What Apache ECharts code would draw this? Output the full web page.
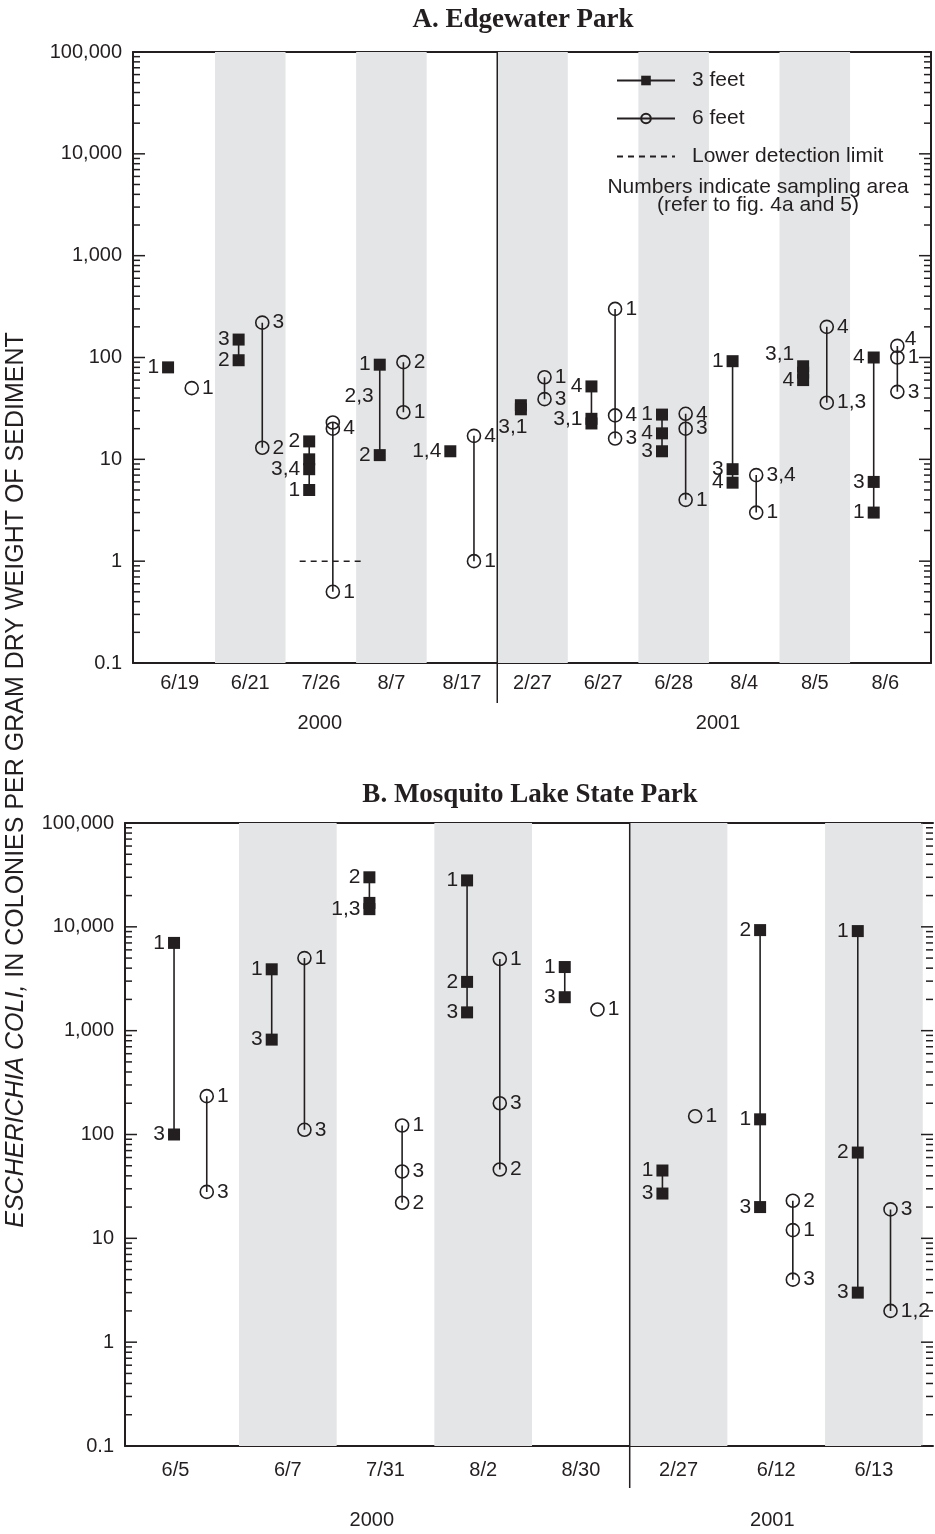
<!DOCTYPE html>
<html><head><meta charset="utf-8">
<script src="https://cdn.jsdelivr.net/npm/echarts@6/dist/echarts.min.js"></script>
<style>html,body{margin:0;padding:0;background:#fff}#chart{width:935px;height:1534px}</style>
</head><body><div id="chart"></div>
<script>
// ================= DATA =================
// Panel A: Edgewater Park
const catsA = ['6/19','6/21','7/26','8/7','8/17','2/27','6/27','6/28','8/4','8/5','8/6'];
const yearsA = ['2000','2001'];
// [category index, E. coli (colonies/g), sampling-area label]
const a3ft = [
  [0, 80, '1'],
  [1, 150, '3'], [1, 94, '2'],
  [2, 15, '2'], [2, 10, ''], [2, 8, '3,4'], [2, 5, '1'],
  [3, 85, '1'], [3, 11, '2'],
  [4, 12, '1,4'],
  [5, 34, ''], [5, 31, '3,1'],
  [6, 52, '4'], [6, 25, '3,1'], [6, 22.5, ''],
  [7, 27.5, '1'], [7, 18, '4'], [7, 12, '3'],
  [8, 92, '1'], [8, 8, '3'], [8, 5.9, '4'],
  [9, 82, '3,1'], [9, 71, ''], [9, 60, '4'],
  [10, 100, '4'], [10, 6, '3'], [10, 3, '1']
];
const a3ftNotes = [[3, 42, '2,3']];
const a6ft = [
  [0, 50, '1'],
  [1, 220, '3'], [1, 13, '2'],
  [2, 23, ''], [2, 20, '4'], [2, 0.5, '1'],
  [3, 90, '2'], [3, 29, '1'],
  [4, 17, '4'], [4, 1, '1'],
  [5, 64, '1'], [5, 39, '3'],
  [6, 300, '1'], [6, 27, '4'], [6, 16, '3'],
  [7, 28, '4'], [7, 20, '3'], [7, 4, '1'],
  [8, 7, '3,4'], [8, 3, '1'],
  [9, 200, '4'], [9, 36, '1,3'],
  [10, 130, '4'], [10, 100, '1'], [10, 46, '3']
];
const detectionLimitA = { cat: 2, value: 1 };

// Panel B: Mosquito Lake State Park
const catsB = ['6/5','6/7','7/31','8/2','8/30','2/27','6/12','6/13'];
const yearsB = ['2000','2001'];
const b3ft = [
  [0, 7000, '1'], [0, 100, '3'],
  [1, 3900, '1'], [1, 820, '3'],
  [2, 30000, '2'], [2, 17000, ''], [2, 14800, '1,3'],
  [3, 28000, '1'], [3, 2950, '2'], [3, 1500, '3'],
  [4, 4100, '1'], [4, 2100, '3'],
  [5, 45, '1'], [5, 27, '3'],
  [6, 9300, '2'], [6, 140, '1'], [6, 20, '3'],
  [7, 9100, '1'], [7, 67, '2'], [7, 3, '3']
];
const b6ft = [
  [0, 234, '1'], [0, 28, '3'],
  [1, 5000, '1'], [1, 111, '3'],
  [2, 122, '1'], [2, 44, '3'], [2, 22, '2'],
  [3, 4900, '1'], [3, 200, '3'], [3, 46, '2'],
  [4, 1600, '1'],
  [5, 150, '1'],
  [6, 23, '2'], [6, 12, '1'], [6, 4, '3'],
  [7, 19, '3'], [7, 2, '1,2']
];

const yMajor = [0.1, 1, 10, 100, 1000, 10000, 100000];

// ================= STYLE / LAYOUT =================
const INK = '#231f20', SHADE = '#e4e5e6';
const FONT = '"Liberation Sans", Arial, Helvetica, sans-serif';
const SERIF = '"Liberation Serif", "Times New Roman", serif';
const OFF3 = 0.335, OFF6 = 0.67;

const yMinor = [];
for (let d = 0.1; d < 100000; d *= 10) for (let k = 2; k <= 9; k++) yMinor.push(+(d * k).toPrecision(3));

const labelTweaks = {
  'A3:5:3,1': { position: 'bottom', offset: [-8, -2] },
  'A3:9:3,1': { position: 'left', offset: [0, -12] },
  'A6:10:4': { position: 'right', offset: [-3, -7] }
};

const panels = [
  { key: 'A', cats: catsA, years: yearsA, d3: a3ft, d6: a6ft, notes3: a3ftNotes,
    grid: { left: 133, top: 52, width: 798, height: 611 }, xMin: -0.162, xMax: 11.147,
    shaded: [1, 3, 5, 7, 9], split: 5, yearPos: [2.485, 8.13], labelMargin: 10, yearOffset: 40,
    catLabelPos: catsA.map((c, k) => k + 0.5),
    rightLine: true, divExt: 40 },
  { key: 'B', cats: catsB, years: yearsB, d3: b3ft, d6: b6ft, notes3: [],
    grid: { left: 125, top: 823, width: 808, height: 623 }, xMin: -0.167, xMax: 8.105,
    shaded: [1, 3, 5, 7], split: 5, yearPos: [2.36, 6.46], labelMargin: 14, yearOffset: 54,
    catLabelPos: catsB.map((c, k) => k === 0 ? 0.35 : k + 0.5),
    rightLine: false, divExt: 42 }
];

const fmtY = v => v < 1 ? (+v).toFixed(1) : Math.round(v).toLocaleString('en-US');

const grids = [], xAxes = [], yAxes = [], series = [];

function lineData(rows, off, tag, defPos) {
  const out = [];
  let prev = null;
  rows.forEach(([c, v, t]) => {
    if (prev !== null && c !== prev) out.push({ value: [prev + off, '-'] });
    prev = c;
    const tw = labelTweaks[tag + ':' + c + ':' + t] || {};
    out.push({
      value: [c + off, v],
      label: { show: !!t, formatter: t || ' ', position: tw.position || defPos,
               offset: tw.offset || [0, 0], distance: 3 }
    });
  });
  return out;
}

const labelBase = { fontSize: 20, color: INK, fontFamily: FONT };
const dataLabel = { fontSize: 21, color: INK, fontFamily: FONT, opacity: 1 };

panels.forEach((p, i) => {
  grids.push(Object.assign({ show: false, outerBoundsMode: 'none', containLabel: false }, p.grid));
  const xb = { type: 'value', gridIndex: i, min: p.xMin, max: p.xMax, splitLine: { show: false },
               axisTick: { show: false } };
  xAxes.push(Object.assign({}, xb, {
    position: 'bottom',
    axisLine: { show: true, onZero: false, lineStyle: { color: INK, width: 2 } },
    axisLabel: { show: true, customValues: p.catLabelPos,
      formatter: v => p.cats[Math.floor(v)] || '', margin: p.labelMargin, ...labelBase }
  }));
  xAxes.push(Object.assign({}, xb, {
    position: 'top', axisLine: { show: true, onZero: false, lineStyle: { color: INK, width: 2 } },
    axisLabel: { show: false }
  }));
  xAxes.push(Object.assign({}, xb, {
    position: 'bottom', offset: p.yearOffset, axisLine: { show: false },
    axisLabel: { show: true, customValues: p.yearPos,
      formatter: v => v < p.split ? p.years[0] : p.years[1], margin: 10, ...labelBase }
  }));
  const yb = { type: 'log', logBase: 10, min: 0.1, max: 100000, gridIndex: i, splitLine: { show: false },
               axisTick: { show: false } };
  yAxes.push(Object.assign({}, yb, { position: 'left',
    axisLine: { show: true, onZero: false, lineStyle: { color: INK, width: 2 } },
    axisLabel: { show: true, customValues: yMajor, formatter: fmtY, margin: 11, ...labelBase } }));
  yAxes.push(Object.assign({}, yb, { position: 'right',
    axisLine: { show: p.rightLine, onZero: false, lineStyle: { color: INK, width: 2 } },
    axisLabel: { show: false } }));

  const xi = i * 3, yi = i * 2;
  // shaded bands
  series.push({ type: 'line', name: 'bands' + i, xAxisIndex: xi, yAxisIndex: yi, data: [], z: 0, silent: true,
    markArea: { silent: true, itemStyle: { color: SHADE }, label: { show: false },
      data: p.shaded.map(k => [{ xAxis: k }, { xAxis: k + 1 }]) } });
  // year divider
  series.push({ type: 'custom', name: 'divider' + i, xAxisIndex: xi, yAxisIndex: yi, z: 1, silent: true, clip: false,
    data: [[p.split, 1]],
    renderItem: (params, api) => {
      const t = api.coord([api.value(0), 100000]);
      const b = api.coord([api.value(0), 0.1]);
      return { type: 'line', shape: { x1: t[0], y1: t[1], x2: b[0], y2: b[1] + p.divExt },
               style: { stroke: INK, lineWidth: 1.5 } };
    } });
  // inside log ticks on both sides (major long, minor short)
  series.push({ type: 'custom', name: 'yticks' + i, xAxisIndex: xi, yAxisIndex: yi, z: 4, silent: true, clip: false,
    data: yMajor.map(v => [p.xMin, v, 1]).concat(yMinor.map(v => [p.xMin, v, 0])),
    renderItem: (params, api) => {
      const l = api.coord([p.xMin, api.value(1)]);
      const r = api.coord([p.xMax, api.value(1)]);
      const len = api.value(2) ? 12 : 7;
      const st = { stroke: INK, lineWidth: 1.5 };
      return { type: 'group', children: [
        { type: 'line', shape: { x1: l[0], y1: l[1], x2: l[0] + len, y2: l[1] }, style: st },
        { type: 'line', shape: { x1: r[0] - len, y1: r[1], x2: r[0], y2: r[1] }, style: st }
      ] };
    } });
  // 3 feet
  series.push({ type: 'line', name: '3 feet', xAxisIndex: xi, yAxisIndex: yi, z: 3,
    data: lineData(p.d3, OFF3, p.key + '3', 'left'), connectNulls: false,
    symbol: 'rect', symbolSize: 12, showAllSymbol: true,
    itemStyle: { color: INK }, lineStyle: { color: INK, width: 1.6 },
    label: { show: true, ...dataLabel }, emphasis: { disabled: true }, silent: true });
  // 6 feet
  series.push({ type: 'line', name: '6 feet', xAxisIndex: xi, yAxisIndex: yi, z: 3,
    data: lineData(p.d6, OFF6, p.key + '6', 'right'), connectNulls: false,
    symbol: 'circle', symbolSize: 13, showAllSymbol: true,
    itemStyle: { color: 'rgba(0,0,0,0)', borderColor: INK, borderWidth: 1.6 },
    lineStyle: { color: INK, width: 1.6 },
    label: { show: true, ...dataLabel }, emphasis: { disabled: true }, silent: true });
  if (p.notes3.length) {
    series.push({ type: 'scatter', name: 'notes' + i, xAxisIndex: xi, yAxisIndex: yi, z: 3,
      data: p.notes3.map(([c, v, t]) => ({ value: [c + OFF3, v], label: { formatter: t } })),
      symbol: 'rect', symbolSize: 2, itemStyle: { color: 'rgba(0,0,0,0)', opacity: 1 },
      label: { show: true, position: 'left', distance: 5, ...dataLabel }, silent: true });
  }
  if (p.key === 'A') {
    series.push({ type: 'line', name: 'Lower detection limit', xAxisIndex: xi, yAxisIndex: yi, z: 2,
      data: [[detectionLimitA.cat + 0.2, detectionLimitA.value], [detectionLimitA.cat + 1.1, detectionLimitA.value]],
      symbol: 'none', itemStyle: { color: 'rgba(0,0,0,0)' },
      lineStyle: { color: INK, width: 1.5, type: [6, 5] }, silent: true });
  }
});

const option = {
  animation: false,
  backgroundColor: '#fff',
  grid: grids, xAxis: xAxes, yAxis: yAxes, series,
  legend: {
    orient: 'vertical', left: 611, top: 65, itemWidth: 58, itemHeight: 12, itemGap: 17, z: 20,
    selectedMode: false,
    data: ['3 feet', '6 feet', 'Lower detection limit'],
    textStyle: { fontSize: 21, color: INK, fontFamily: FONT, padding: [0, 0, 0, 12] }
  },
  graphic: [
    { type: 'text', z: 100, x: 523, y: 20, style: { text: 'A. Edgewater Park', fill: INK, fontSize: 27, fontWeight: 'bold',
      fontFamily: SERIF, align: 'center', verticalAlign: 'middle' } },
    { type: 'text', z: 100, x: 530, y: 795, style: { text: 'B. Mosquito Lake State Park', fill: INK, fontSize: 27, fontWeight: 'bold',
      fontFamily: SERIF, align: 'center', verticalAlign: 'middle' } },
    { type: 'text', z: 100, x: 758, y: 196, style: { text: 'Numbers indicate sampling area\n(refer to fig. 4a and 5)',
      fill: INK, fontSize: 21, lineHeight: 18, fontFamily: FONT, align: 'center', verticalAlign: 'middle' } },
    { type: 'text', z: 100, x: 16, y: 780, rotation: Math.PI / 2, style: {
      text: '{i|ESCHERICHIA COLI,} IN COLONIES PER GRAM DRY WEIGHT OF SEDIMENT',
      rich: { i: { fontStyle: 'italic', fontSize: 25, fontFamily: FONT, fill: INK } },
      fill: INK, fontSize: 25, fontFamily: FONT, align: 'center', verticalAlign: 'middle' } }
  ]
};

const chart = echarts.init(document.getElementById('chart'), null, { renderer: 'canvas' });
chart.setOption(option);
</script></body></html>
